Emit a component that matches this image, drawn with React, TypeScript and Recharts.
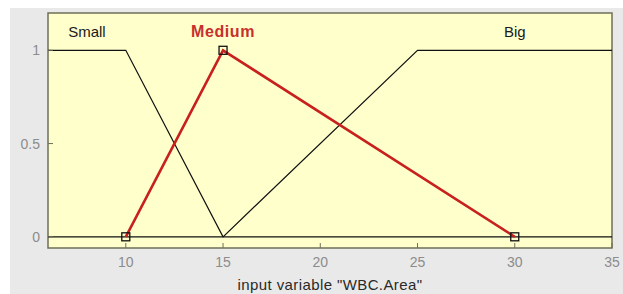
import {
  LineChart,
  Line,
  XAxis,
  YAxis,
  CartesianGrid,
  ReferenceArea,
  ReferenceDot,
} from 'recharts';

// membership functions of input variable "WBC.Area"
const smallMf = [
  { x: 6, y: 1 },
  { x: 10, y: 1 },
  { x: 15, y: 0 },
  { x: 35, y: 0 },
];
const mediumMf = [
  { x: 10, y: 0 },
  { x: 15, y: 1 },
  { x: 30, y: 0 },
];
const bigMf = [
  { x: 6, y: 0 },
  { x: 15, y: 0 },
  { x: 25, y: 1 },
  { x: 35, y: 1 },
];

const xTicks = [10, 15, 20, 25, 30, 35];
const yTicks = [0, 0.5, 1];
const mfLabels = [
  { name: 'Small', x: 8, y: 1.1, active: false },
  { name: 'Medium', x: 15, y: 1.1, active: true },
  { name: 'Big', x: 30, y: 1.1, active: false },
];
const xTitle = 'input variable "WBC.Area"';

const FONT = '"Liberation Sans", Arial, sans-serif';
const TICK_COLOR = '#8c8c8c';
const FRAME = '#6f6f58';

const BottomTick = ({ x, y, payload }: any) => (
  <g>
    <line x1={x} y1={y} x2={x} y2={y - 5} stroke={FRAME} />
    <text x={x} y={y + 19} textAnchor="middle" fill={TICK_COLOR} fontSize={14} fontFamily={FONT}>
      {payload.value}
    </text>
  </g>
);

const TopTick = ({ x, y }: any) => <line x1={x} y1={y} x2={x} y2={y + 5} stroke={FRAME} />;

const LeftTick = ({ x, y, payload }: any) => (
  <g>
    <line x1={x} y1={y} x2={x + 5} y2={y} stroke={FRAME} />
    <text x={x - 8} y={y + 5} textAnchor="end" fill={TICK_COLOR} fontSize={14} fontFamily={FONT}>
      {payload.value}
    </text>
  </g>
);

const RightTick = ({ x, y }: any) => <line x1={x} y1={y} x2={x - 5} y2={y} stroke={FRAME} />;

const SquareDot = ({ cx, cy }: any) => (
  <rect x={cx - 4} y={cy - 4} width={8} height={8} fill="none" stroke="#111" strokeWidth={1.3} />
);

const AxisTitle = ({ viewBox }: any) => (
  <text
    x={viewBox.x + viewBox.width / 2}
    y={viewBox.y + 42}
    textAnchor="middle"
    fill="#2a2a2a"
    fontSize={15}
    fontFamily={FONT}
    letterSpacing={0.4}
  >
    {xTitle}
  </text>
);

export default function App() {
  return (
    <div style={{ position: 'fixed', left: 0, top: 0, width: 623, height: 294, background: '#fff', overflow: 'hidden' }}>
      <div style={{ position: 'absolute', left: 10, top: 8, width: 613, height: 286, background: '#e9e9e9' }}>
        <LineChart width={613} height={286} margin={{ top: 5, right: 11, left: 0, bottom: 0 }} style={{ overflow: 'visible' }}>
          <CartesianGrid horizontal={false} vertical={false} fill="#ffffcc" />
          <XAxis
            xAxisId="b"
            type="number"
            dataKey="x"
            domain={[6, 35]}
            ticks={xTicks}
            allowDataOverflow
            height={46}
            axisLine={false}
            tickLine={false}
            tickSize={0}
            tickMargin={0}
            tick={<BottomTick />}
            interval={0}
            label={<AxisTitle />}
          />
          <XAxis
            xAxisId="t"
            orientation="top"
            type="number"
            dataKey="x"
            domain={[6, 35]}
            ticks={xTicks}
            allowDataOverflow
            height={0}
            axisLine={false}
            tickLine={false}
            tickSize={0}
            tickMargin={0}
            tick={<TopTick />}
            interval={0}
          />
          <YAxis
            yAxisId="l"
            type="number"
            domain={[-0.06, 1.2]}
            ticks={yTicks}
            allowDataOverflow
            width={38}
            axisLine={false}
            tickLine={false}
            tickSize={0}
            tickMargin={0}
            tick={<LeftTick />}
            interval={0}
          />
          <YAxis
            yAxisId="r"
            orientation="right"
            type="number"
            domain={[-0.06, 1.2]}
            ticks={yTicks}
            allowDataOverflow
            width={0}
            axisLine={false}
            tickLine={false}
            tickSize={0}
            tickMargin={0}
            tick={<RightTick />}
            interval={0}
          />
          <Line
            xAxisId="b"
            yAxisId="l"
            data={smallMf}
            dataKey="y"
            type="linear"
            stroke="#111"
            strokeWidth={1.2}
            dot={false}
            isAnimationActive={false}
          />
          <Line
            xAxisId="b"
            yAxisId="l"
            data={bigMf}
            dataKey="y"
            type="linear"
            stroke="#111"
            strokeWidth={1.2}
            dot={false}
            isAnimationActive={false}
          />
          <Line
            xAxisId="b"
            yAxisId="l"
            data={mediumMf}
            dataKey="y"
            type="linear"
            stroke="#c8201e"
            strokeWidth={2.6}
            dot={<SquareDot />}
            isAnimationActive={false}
          />
          {mfLabels.map((m) => (
            <ReferenceDot
              key={m.name}
              xAxisId="b"
              yAxisId="l"
              x={m.x}
              y={m.y}
              r={0}
              fill="none"
              stroke="none"
              label={{
                value: m.name,
                position: 'center',
                fill: m.active ? '#c8302c' : '#1a1a1a',
                fontSize: m.active ? 16 : 15,
                fontWeight: m.active ? 'bold' : 'normal',
                fontFamily: FONT,
                letterSpacing: m.active ? 0.6 : 0,
              }}
            />
          ))}
          <ReferenceArea
            xAxisId="b"
            yAxisId="l"
            x1={6}
            x2={35}
            y1={-0.06}
            y2={1.2}
            fill="none"
            stroke={FRAME}
            strokeWidth={1.5}
          />
        </LineChart>
      </div>
    </div>
  );
}
